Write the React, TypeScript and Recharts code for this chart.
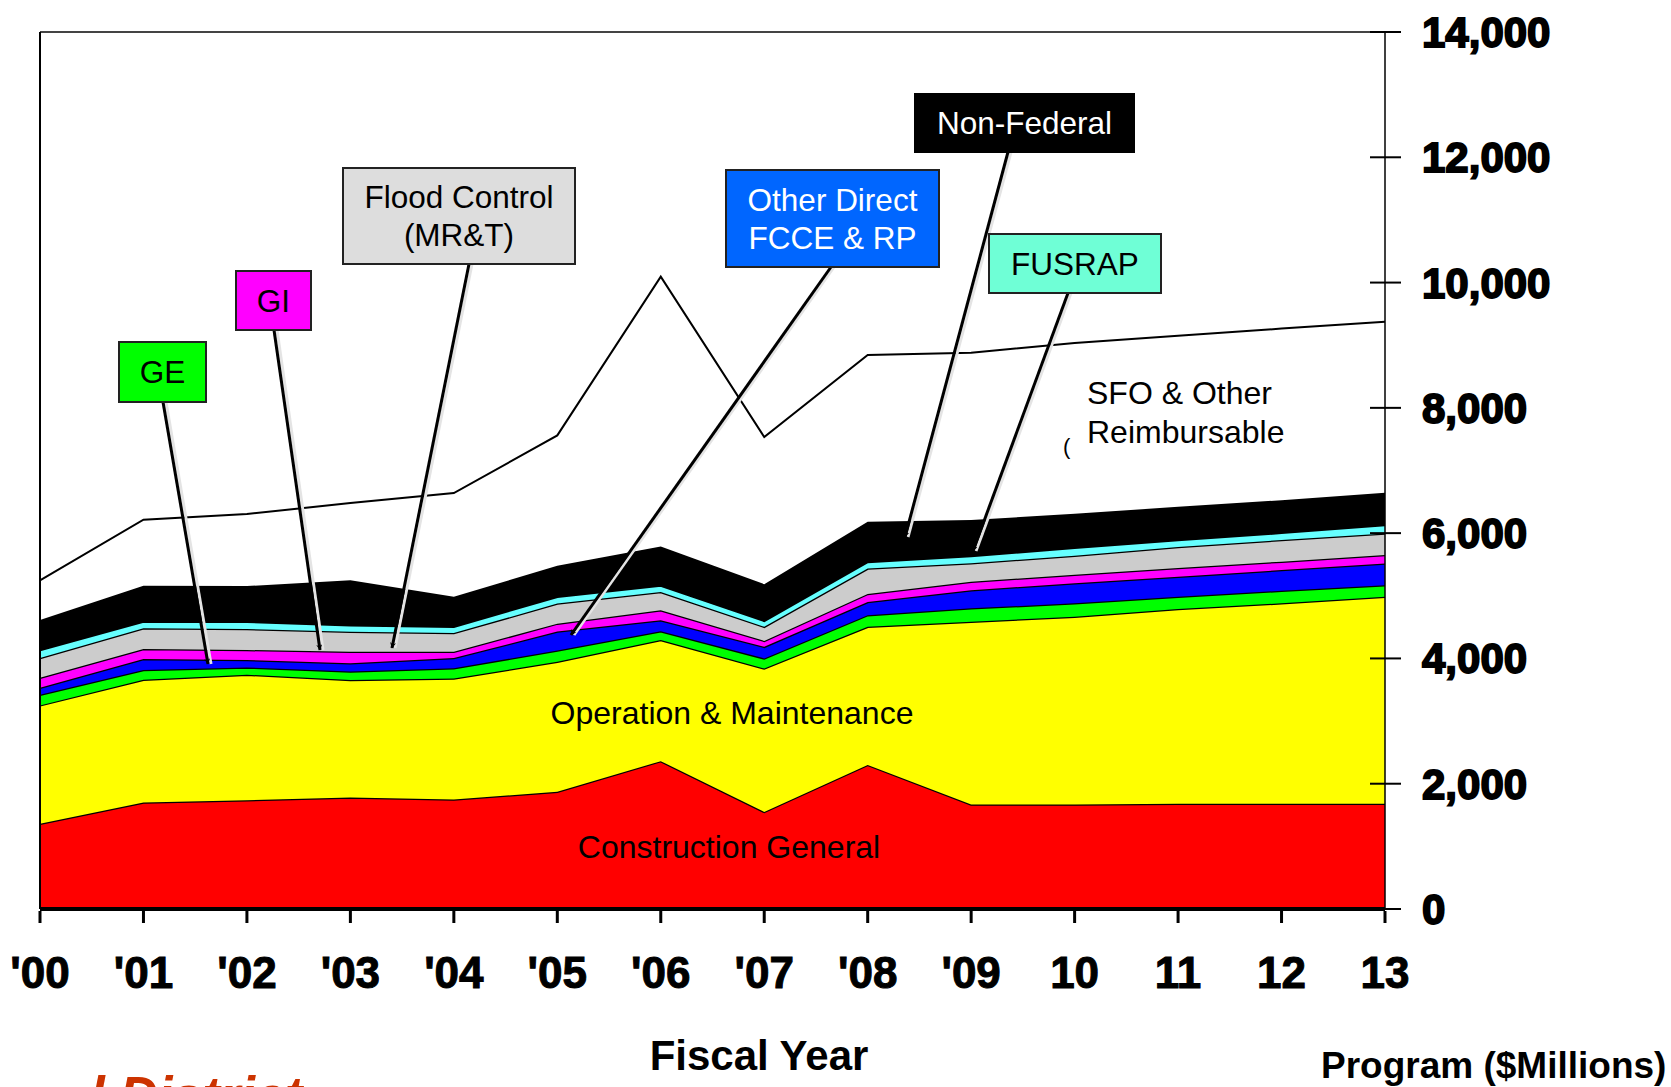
import React from "react";
import { AreaChart, Area, XAxis, YAxis, ReferenceLine } from "recharts";

// fiscal years
const years = ["'00", "'01", "'02", "'03", "'04", "'05", "'06", "'07", "'08", "'09", "10", "11", "12", "13"];

// $ millions per program (stacked bottom -> top)
const construction = [1360, 1700, 1735, 1780, 1750, 1870, 2360, 1550, 2300, 1670, 1670, 1680, 1680, 1680];
const operation = [1890, 1960, 2005, 1875, 1930, 2075, 1935, 2290, 2205, 2915, 2995, 3110, 3200, 3305];
const ge = [170, 155, 115, 135, 165, 180, 140, 160, 185, 215, 215, 195, 200, 185];
const otherDirect = [110, 175, 120, 135, 160, 305, 175, 185, 210, 290, 320, 320, 330, 345];
const gi = [160, 160, 160, 180, 100, 125, 160, 95, 130, 135, 135, 140, 135, 135];
const floodControl = [315, 330, 335, 320, 300, 320, 290, 225, 405, 295, 305, 335, 345, 345];
const fusrap = [130, 110, 115, 105, 100, 110, 105, 95, 105, 115, 125, 110, 115, 135];
const nonFederal = [480, 570, 570, 720, 480, 495, 620, 585, 640, 575, 545, 530, 520, 515];
const sfo = [630, 1055, 1150, 1230, 1655, 2080, 4310, 2350, 2665, 2670, 2725, 2730, 2740, 2730];

const yTicks = [0, 2000, 4000, 6000, 8000, 10000, 12000, 14000];

const data = years.map((year, i) => ({
  year,
  cg: construction[i],
  om: operation[i],
  ge: ge[i],
  od: otherDirect[i],
  gi: gi[i],
  fc: floodControl[i],
  fus: fusrap[i],
  nf: nonFederal[i],
  sfo: sfo[i],
}));

const series = [
  { key: "cg", fill: "#ff0000" },
  { key: "om", fill: "#ffff00" },
  { key: "ge", fill: "#00ff00" },
  { key: "od", fill: "#0000ff" },
  { key: "gi", fill: "#ff00ff" },
  { key: "fc", fill: "#cccccc" },
  { key: "fus", fill: "#66ffff" },
  { key: "nf", fill: "#000000" },
  { key: "sfo", fill: "#ffffff" },
];

const FONT = "'Liberation Sans', Arial, sans-serif";

function YTick(props: any) {
  const { x, y, payload } = props;
  const label = String(payload.value).replace(/\B(?=(\d{3})+(?!\d))/g, ",");
  return (
    <g>
      <line x1={x - 15} x2={x + 16} y1={y} y2={y} stroke="#000" strokeWidth={2} />
      <text x={x + 37} y={y + 15} fontFamily={FONT} fontSize={42} fontWeight={700}
        stroke="#000" strokeWidth={1.8} fill="#000" textAnchor="start">
        {label}
      </text>
    </g>
  );
}

function XTick(props: any) {
  const { x, y, payload } = props;
  return (
    <g>
      <line x1={x} x2={x} y1={y + 2} y2={y + 14} stroke="#000" strokeWidth={3} />
      <text x={x} y={y + 79} fontFamily={FONT} fontSize={44} fontWeight={700}
        stroke="#000" strokeWidth={1} fill="#000" textAnchor="middle">
        {payload.value}
      </text>
    </g>
  );
}

function Box({ x, y, w, h, fill, color = "#000", lines, border = "#222" }: any) {
  const cx = x + w / 2;
  const step = 38;
  const first = y + h / 2 - ((lines.length - 1) * step) / 2;
  return (
    <g>
      <rect x={x} y={y} width={w} height={h} fill={fill} stroke={border} strokeWidth={2} />
      {lines.map((t: string, i: number) => (
        <text key={i} x={cx} y={first + i * step + 11} textAnchor="middle" fontFamily={FONT} fontSize={31.5} fill={color}>
          {t}
        </text>
      ))}
    </g>
  );
}

function Arrow({ x1, y1, x2, y2 }: any) {
  return (
    <g>
      <line x1={x1 + 3} y1={y1} x2={x2 + 3} y2={y2} stroke="#e4e4e4" strokeWidth={3} />
      <line x1={x1} y1={y1} x2={x2} y2={y2} stroke="#000" strokeWidth={3} markerEnd="url(#head)" />
    </g>
  );
}

export default function App() {
  return (
    <div style={{ position: "absolute", left: 0, top: 0, width: 1671, height: 1087, background: "#fff", overflow: "hidden" }}>
      <AreaChart width={1671} height={1087} data={data} margin={{ top: 32, right: 0, bottom: 0, left: 40 }}>
        <XAxis dataKey="year" interval={0} height={178} tickSize={0} tickMargin={0} tickLine={false}
          axisLine={{ stroke: "#000", strokeWidth: 4 }} tick={<XTick />} />
        <YAxis orientation="right" width={286} domain={[0, 14000]} ticks={yTicks} interval={0}
          tickSize={0} tickMargin={0} tickLine={false} axisLine={{ stroke: "#000", strokeWidth: 1.5 }} tick={<YTick />} />
        {series.map((s) => (
          <Area key={s.key} type="linear" dataKey={s.key} stackId="1" fill={s.fill} fillOpacity={1}
            stroke="#000" strokeWidth={s.key === "sfo" ? 2 : 2.5} dot={false} activeDot={false}
            isAnimationActive={false} />
        ))}
        <ReferenceLine y={14000} stroke="#444" strokeWidth={2} />
        <ReferenceLine x="'00" stroke="#000" strokeWidth={2} />
      </AreaChart>
      <svg width={1671} height={1087} style={{ position: "absolute", left: 0, top: 0, pointerEvents: "none" }}>
        <defs>
          <marker id="head" viewBox="0 0 10 10" refX={9} refY={5} markerWidth={6} markerHeight={6} orient="auto-start-reverse" markerUnits="userSpaceOnUse">
            <path d="M0,0 L10,5 L0,10 L3,5 z" fill="#000" />
          </marker>
        </defs>
        <Arrow x1={163} y1={402} x2={208} y2={664} />
        <Arrow x1={274} y1={330} x2={320} y2={650} />
        <Arrow x1={469} y1={264} x2={392} y2={648} />
        <Arrow x1={831} y1={267} x2={571} y2={635} />
        <Arrow x1={1008} y1={152} x2={905} y2={537} />
        <Arrow x1={1068} y1={293} x2={973} y2={551} />
        <Box x={119} y={342} w={87} h={60} fill="#00ff00" lines={["GE"]} />
        <Box x={236} y={271} w={75} h={59} fill="#ff00ff" lines={["GI"]} />
        <Box x={343} y={168} w={232} h={96} fill="#dddddd" lines={["Flood Control", "(MR&T)"]} />
        <Box x={726} y={170} w={213} h={97} fill="#0066ff" color="#fff" lines={["Other Direct", "FCCE & RP"]} />
        <Box x={915} y={94} w={219} h={58} fill="#000" color="#fff" border="#000" lines={["Non-Federal"]} />
        <Box x={989} y={234} w={172} h={59} fill="#6fffd6" lines={["FUSRAP"]} />
        <text x={1087} y={404} fontFamily={FONT} fontSize={32} fill="#000">SFO &amp; Other</text>
        <text x={1087} y={443} fontFamily={FONT} fontSize={32} fill="#000">Reimbursable</text>
        <text x={1063} y={454} fontFamily={FONT} fontSize={22} fill="#000">(</text>
        <text x={732} y={724} textAnchor="middle" fontFamily={FONT} fontSize={32} fill="#000">Operation &amp; Maintenance</text>
        <text x={729} y={858} textAnchor="middle" fontFamily={FONT} fontSize={32} fill="#000">Construction General</text>
        <text x={759} y={1070} textAnchor="middle" fontFamily={FONT} fontSize={42} fontWeight={700} fill="#000">Fiscal Year</text>
        <text x={1321} y={1078} fontFamily={FONT} fontSize={37} fontWeight={700} fill="#000">Program ($Millions)</text>
        <text x={90} y={1114} fontFamily={FONT} fontSize={53} fontWeight={700} fontStyle="italic" fill="#cc3300">l District</text>
      </svg>
    </div>
  );
}
